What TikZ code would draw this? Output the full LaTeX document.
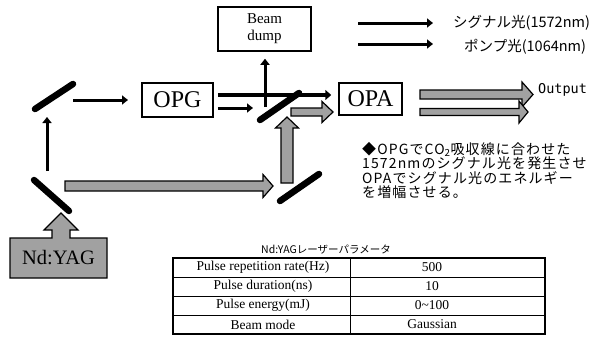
\documentclass[tikz,border=0pt]{standalone}
\usepackage{fontspec}
\setmainfont{Liberation Serif}
\newfontfamily\jp{Noto Sans CJK JP}
\newfontfamily\jpw{Noto Sans CJK JP}[LetterSpace=8]
\newfontfamily\monof{DejaVu Sans Mono}
\usetikzlibrary{arrows.meta}
\newcommand\blkH[6]{% x1, y, x2(tip), shaft half, head half, head length
  \draw[blk] (#1,#2-#4) -- (#3-#6,#2-#4) -- (#3-#6,#2-#5) -- (#3,#2) -- (#3-#6,#2+#5) -- (#3-#6,#2+#4) -- (#1,#2+#4) -- cycle;}
\newcommand\blkV[6]{% x, y bottom, y tip, shaft half, head half, head length
  \draw[blk] (#1-#4,#2) -- (#1-#4,#3+#6) -- (#1-#5,#3+#6) -- (#1,#3) -- (#1+#5,#3+#6) -- (#1+#4,#3+#6) -- (#1+#4,#2) -- cycle;}
\begin{document}
\begin{tikzpicture}[x=1pt,y=-1pt,
  mirror/.style={line width=6.5pt,line cap=round},
  beam/.style={line width=3pt,-{Triangle[length=6pt,width=9pt]}},
  beamthick/.style={line width=4pt,-{Triangle[length=6pt,width=10pt]}},
  blk/.style={fill=black!37,draw=black,line width=1.2pt,line join=miter},
  box/.style={draw,line width=1.5pt,inner sep=0pt},
  cell/.style={inner sep=0pt,font=\fontsize{13.5}{15}\selectfont},
]
\useasboundingbox (0,0) rectangle (589,356);

% boxes
\node[box,minimum width=71pt,minimum height=34pt,font=\fontsize{24}{24}\selectfont] (OPG) at (177.5,100) {OPG};
\node[box,minimum width=63pt,minimum height=32pt,font=\fontsize{24}{24}\selectfont] (OPA) at (370.5,99) {OPA};
\node[box,minimum width=93pt,minimum height=44pt,align=center,font=\fontsize{15}{17}\selectfont] (dump) at (264.5,29) {Beam\\dump};

% Nd:YAG shape
\draw[blk] (10,238) -- (52,238) -- (52,230) -- (44,230) -- (61,213) -- (78,230) -- (70,230) -- (70,238) -- (107,238) -- (107,278) -- (10,278) -- cycle;
\node[font=\fontsize{20.5}{20}\selectfont] (ndyag) at (58.5,258) {Nd:YAG};

% mirrors
\coordinate (mA1) at (35,109); \coordinate (mA2) at (73,84);
\coordinate (mB1) at (34,180); \coordinate (mB2) at (69,211);
\coordinate (mC1) at (260,120); \coordinate (mC2) at (299,93);
\coordinate (mD1) at (280,201); \coordinate (mD2) at (319,174);
\draw[mirror] (mA1) -- (mA2);
\draw[mirror] (mB1) -- (mB2);
\draw[mirror] (mC1) -- (mC2);
\draw[mirror] (mD1) -- (mD2);

% gray pump arrows
\blkH{65}{186}{273}{5}{11.5}{10}
\blkV{287}{183}{117}{6}{11.5}{11}
\blkH{291}{112}{333}{4}{10.5}{11}
\blkH{420}{94.5}{533}{4.5}{12.5}{11}
\blkH{420}{112}{528}{3.5}{11}{9}

% black beams
\coordinate (a1s) at (47,171); \coordinate (a1e) at (47,117);
\draw[beam] (a1s) -- (a1e);
\coordinate (a2s) at (73,100); \coordinate (a2e) at (128,100);
\draw[beam] (a2s) -- (a2e);
\coordinate (a3s) at ([xshift=4pt]OPG.east |- 0,95); \coordinate (a3e) at ([xshift=-7pt]OPA.west |- 0,95);
\draw[beamthick] (a3s) -- (a3e);
\coordinate (a4s) at ([xshift=4pt]OPG.east |- 0,108); \coordinate (a4e) at (253,108);
\draw[beam] (a4s) -- (a4e);
\coordinate (a5s) at (265,107); \coordinate (a5e) at ([yshift=-7pt]dump.south -| 265,0);
\draw[beam] (a5s) -- (a5e);

% legend
\coordinate (l1s) at (358,23); \coordinate (l1e) at (433,23);
\draw[beam] (l1s) -- (l1e);
\node[anchor=west,inner sep=0pt,font=\jp\fontsize{14.5}{14}\selectfont] (lsig) at (453,23) {シグナル光(1572nm)};
\coordinate (l2s) at (358,44); \coordinate (l2e) at (433,44);
\draw[beam] (l2s) -- (l2e);
\node[anchor=west,inner sep=0pt,font=\jp\fontsize{14.5}{14}\selectfont] (lpump) at (464,47) {ポンプ光(1064nm)};

\node[anchor=west,inner sep=0pt,font=\monof\fontsize{13.5}{14}\selectfont] (out) at (538,90) {Output};

% description
\node[anchor=north west,inner sep=0pt,align=left,font=\jpw\fontsize{14}{14.5}\selectfont] (desc) at (362,142)
 {◆OPGでCO\textsubscript{2}吸収線に合わせた\\1572nmのシグナル光を発生させ\\OPAでシグナル光のエネルギー\\を増幅させる。};

% table
\node[font=\jp\fontsize{10.5}{12}\selectfont] (ttitle) at (326,250) {Nd:YAGレーザーパラメータ};
\draw[line width=0.8pt] (173,277) -- (545,277) (173,296) -- (545,296) (173,315) -- (545,315) (350,258) -- (350,334);
\draw[line width=1.5pt] (173,258) rectangle (545,334);
\node[cell] (r1a) at (263,267.5) {Pulse repetition rate(Hz)};
\node[cell] (r1b) at (432,267.5) {500};
\node[cell] (r2a) at (263,286.5) {Pulse duration(ns)};
\node[cell] (r2b) at (432,286.5) {10};
\node[cell] (r3a) at (263,305.5) {Pulse energy(mJ)};
\node[cell] (r3b) at (432,305.5) {0\textasciitilde 100};
\node[cell] (r4a) at (263,324.5) {Beam mode};
\node[cell] (r4b) at (432,324.5) {Gaussian};
\end{tikzpicture}
\end{document}
